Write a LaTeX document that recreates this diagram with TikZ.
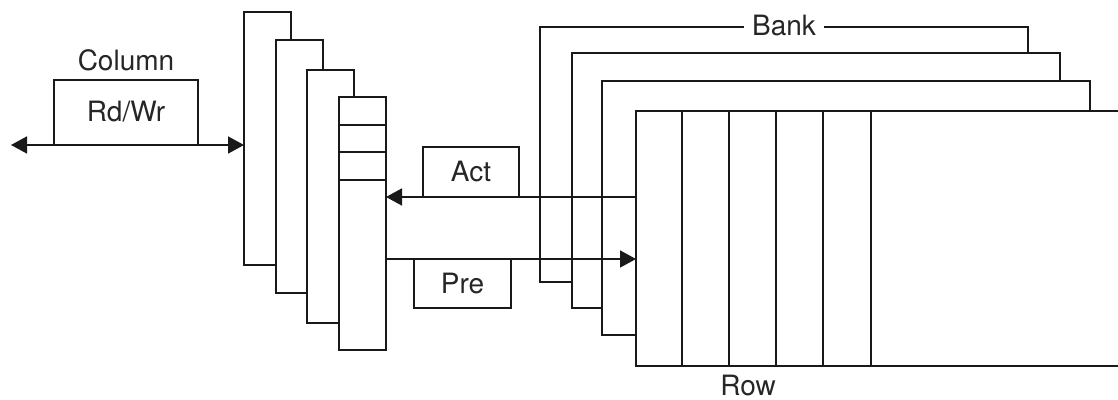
\documentclass[tikz,border=0pt]{standalone}
\usepackage{fontspec}
\setmainfont{TeX Gyre Heros}
\usetikzlibrary{arrows.meta}
\begin{document}
\begin{tikzpicture}[x=0.5pt,y=-0.5pt,
  ln/.style={line width=0.8pt,draw=black!90},
  rect/.style n args={2}{ln,fill=white,inner sep=0pt,outer sep=0pt,minimum width=#1*0.5pt,minimum height=#2*0.5pt},
  lbl/.style={font=\fontsize{14}{16}\selectfont,text=black!85,inner sep=1pt},
  tip/.tip={Triangle[length=8pt,width=8.5pt]},
  arr/.style={ln,-tip},
  darr/.style={ln,tip-tip}]
\clip (0,0) rectangle (1118,400);
\fill[white] (0,0) rectangle (1118,400);
% stacked column buffers
\node[rect={47}{253}] (R1) at (267.5,138.5) {};
\node[rect={47}{253}] (R2) at (299.5,166.5) {};
\node[rect={47}{253}] (R3) at (330.5,196.5) {};
\node[rect={47}{253}] (R4) at (362.5,223.5) {};
\foreach \yy in {125,152,180} \draw[ln] (R4.west |- 0,\yy) -- (R4.east |- 0,\yy);
% banks
\node[rect={488}{255}] (B1) at (784,154.5) {};
\node[lbl,fill=white,inner xsep=4pt] (bank) at (784,26) {Bank};
\node[rect={488}{255}] (B2) at (816,180.5) {};
\node[rect={488}{254}] (B3) at (846,208) {};
\node[rect={488}{255}] (B4) at (880,238.5) {};
\foreach \xx in {682,729,776,823,871} \draw[ln] (\xx,0 |- B4.north) -- (\xx,0 |- B4.south);
\node[lbl] (row) at (748,386) {Row};
% Rd/Wr
\node[rect={144}{65}] (rw) at (126,112.5) {};
\node[lbl] (rwt) at (126,112) {Rd/Wr};
\node[lbl] (col) at (126,60) {Column};
\coordinate (busL) at (11,145);
\draw[darr] (busL) -- (R1.west |- rw.south);
% Act / Pre
\node[rect={96}{50}] (act) at (471,172) {};
\node[lbl] (actt) at (471,172) {Act};
\node[rect={97}{49}] (pre) at (462.5,283.5) {};
\node[lbl] (pret) at (462.5,284) {Pre};
\draw[arr] (B4.west |- act.south) -- (R4.east |- act.south);
\draw[arr] (R4.east |- pre.north) -- (B4.west |- pre.north);
\end{tikzpicture}
\end{document}
